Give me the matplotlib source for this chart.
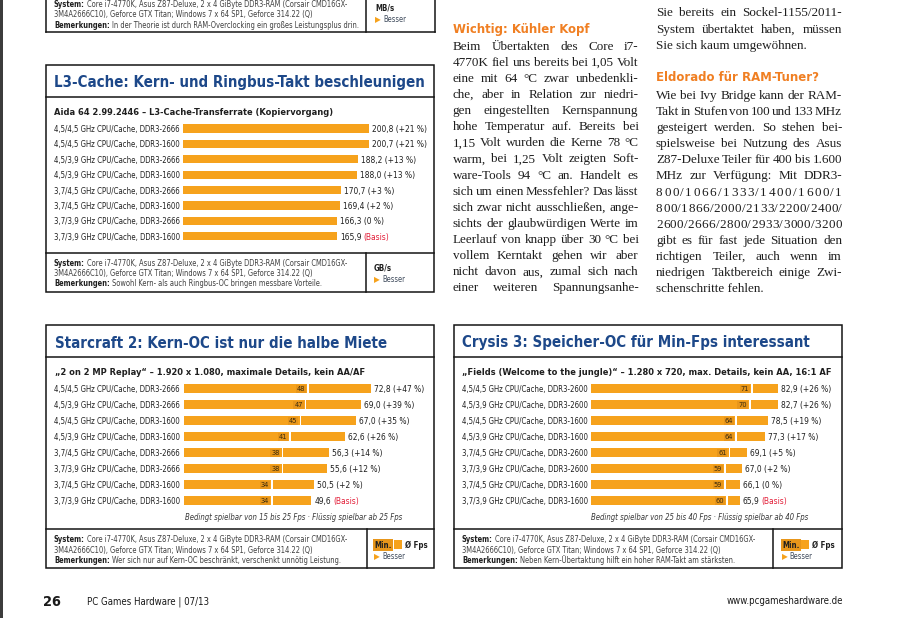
import matplotlib
matplotlib.use("Agg")
import matplotlib.pyplot as plt
import numpy as np
from matplotlib import font_manager
from matplotlib.patches import Rectangle
from matplotlib.transforms import blended_transform_factory, ScaledTranslation

W, H = 907, 618

# ------------------------------------------------------------------
#   DATA
# ------------------------------------------------------------------
l3_labels = ["4,5/4,5 GHz CPU/Cache, DDR3-2666", "4,5/4,5 GHz CPU/Cache, DDR3-1600",
             "4,5/3,9 GHz CPU/Cache, DDR3-2666", "4,5/3,9 GHz CPU/Cache, DDR3-1600",
             "3,7/4,5 GHz CPU/Cache, DDR3-2666", "3,7/4,5 GHz CPU/Cache, DDR3-1600",
             "3,7/3,9 GHz CPU/Cache, DDR3-2666", "3,7/3,9 GHz CPU/Cache, DDR3-1600"]
l3_values = [200.8, 200.7, 188.2, 188.0, 170.7, 169.4, 166.3, 165.9]
l3_gain = ["+21 %", "+21 %", "+13 %", "+13 %", "+3 %", "+2 %", "0 %", "Basis"]

sc_labels = ["4,5/4,5 GHz CPU/Cache, DDR3-2666", "4,5/3,9 GHz CPU/Cache, DDR3-2666",
             "4,5/4,5 GHz CPU/Cache, DDR3-1600", "4,5/3,9 GHz CPU/Cache, DDR3-1600",
             "3,7/4,5 GHz CPU/Cache, DDR3-2666", "3,7/3,9 GHz CPU/Cache, DDR3-2666",
             "3,7/4,5 GHz CPU/Cache, DDR3-1600", "3,7/3,9 GHz CPU/Cache, DDR3-1600"]
sc_min = [48, 47, 45, 41, 38, 38, 34, 34]
sc_avg = [72.8, 69.0, 67.0, 62.6, 56.3, 55.6, 50.5, 49.6]
sc_gain = ["+47 %", "+39 %", "+35 %", "+26 %", "+14 %", "+12 %", "+2 %", "Basis"]

cr_labels = ["4,5/4,5 GHz CPU/Cache, DDR3-2600", "4,5/3,9 GHz CPU/Cache, DDR3-2600",
             "4,5/4,5 GHz CPU/Cache, DDR3-1600", "4,5/3,9 GHz CPU/Cache, DDR3-1600",
             "3,7/4,5 GHz CPU/Cache, DDR3-2600", "3,7/3,9 GHz CPU/Cache, DDR3-2600",
             "3,7/4,5 GHz CPU/Cache, DDR3-1600", "3,7/3,9 GHz CPU/Cache, DDR3-1600"]
cr_min = [71, 70, 64, 64, 61, 59, 59, 60]
cr_avg = [82.9, 82.7, 78.5, 77.3, 69.1, 67.0, 66.1, 65.9]
cr_gain = ["+26 %", "+26 %", "+19 %", "+17 %", "+5 %", "+2 %", "0 %", "Basis"]

system_1 = "Core i7-4770K, Asus Z87-Deluxe, 2 x 4 GiByte DDR3-RAM (Corsair CMD16GX-"
system_2 = "3M4A2666C10), Geforce GTX Titan; Windows 7 x 64 SP1, Geforce 314.22 (Q)"

col_left = ["Beim Übertakten des Core i7-",
            "4770K fiel uns bereits bei 1,05 Volt",
            "eine mit 64 °C zwar unbedenkli-",
            "che, aber in Relation zur niedri-",
            "gen eingestellten Kernspannung",
            "hohe Temperatur auf. Bereits bei",
            "1,15 Volt wurden die Kerne 78 °C",
            "warm, bei 1,25 Volt zeigten Soft-",
            "ware-Tools 94 °C an. Handelt es",
            "sich um einen Messfehler? Das lässt",
            "sich zwar nicht ausschließen, ange-",
            "sichts der glaubwürdigen Werte im",
            "Leerlauf von knapp über 30 °C bei",
            "vollem Kerntakt gehen wir aber",
            "nicht davon aus, zumal sich nach",
            "einer weiteren Spannungsanhe-"]
col_right_top = ["Sie bereits ein Sockel-1155/2011-",
                 "System übertaktet haben, müssen",
                 "Sie sich kaum umgewöhnen."]
col_right = ["Wie bei Ivy Bridge kann der RAM-",
             "Takt in Stufen von 100 und 133 MHz",
             "gesteigert werden. So stehen bei-",
             "spielsweise bei Nutzung des Asus",
             "Z87-Deluxe Teiler für 400 bis 1.600",
             "MHz zur Verfügung: Mit DDR3-",
             "800/1066/1333/1400/1600/1",
             "800/1866/2000/2133/2200/2400/",
             "2600/2666/2800/2933/3000/3200",
             "gibt es für fast jede Situation den",
             "richtigen Teiler, auch wenn im",
             "niedrigen Taktbereich einige Zwi-",
             "schenschritte fehlen."]

# colours
ORANGE = "#f6a21c"
ORANGE_DK = "#e8961a"
HEAD_ORANGE = "#f07f22"
BLUE = "#1d4889"
RED = "#e3203a"
INK = "#1f1f1f"
GREY = "#404040"
LINE = "#151515"

installed = {f.name for f in font_manager.fontManager.ttflist}
if "Liberation Sans Narrow" in installed:
    SANS = dict(family=["Liberation Sans Narrow", "DejaVu Sans"])
else:
    SANS = dict(family=["DejaVu Sans"], fontstretch="condensed")
SERIF = dict(family=["Liberation Serif" if "Liberation Serif" in installed else "DejaVu Serif"])
SYM = dict(family=["DejaVu Sans"])

fig = plt.figure(figsize=(W / 100, H / 100), dpi=100)
page = fig.add_axes([0, 0, 1, 1])
page.set_xlim(0, W)
page.set_ylim(H, 0)
page.axis("off")
renderer = fig.canvas.get_renderer()


def width(t):
    return t.get_window_extent(renderer).width


def txt(x, y, s, **kw):
    kw.setdefault("va", "center_baseline")
    kw.setdefault("ha", "left")
    return page.text(x, y, s, **kw)


def fit(sample, target, **kw):
    t = page.text(0, 0, sample, fontsize=10, **kw)
    w = width(t)
    t.remove()
    return 10 * target / w


def space_px(size, **kw):
    a = page.text(0, 0, "x x", fontsize=size, **kw)
    b = page.text(0, 0, "xx", fontsize=size, **kw)
    s = width(a) - width(b)
    a.remove()
    b.remove()
    return s


def rich(x, y, parts, size):
    # parts: list of (text, props); a space is put between parts
    for k, (s, kw) in enumerate(parts):
        t = txt(x, y, s, fontsize=size, **kw)
        x += width(t)
        if k < len(parts) - 1:
            x += space_px(size, **kw)
    return x


def justify(x0, x1, y, line, size, last=False, **kw):
    if last:
        txt(x0, y, line, fontsize=size, **kw)
        return
    tokens = line.split(" ") if " " in line else list(line)
    arts = [txt(0, y, tok, fontsize=size, **kw) for tok in tokens]
    ws = [width(a) for a in arts]
    gap = (x1 - x0 - sum(ws)) / (len(tokens) - 1)
    x = x0
    for a, w in zip(arts, ws):
        a.set_x(x)
        x += w + gap


def hline(x0, x1, y):
    page.plot([x0, x1], [y, y], color=LINE, lw=1.1, solid_capstyle="projecting")


def vline(x, y0, y1):
    page.plot([x, x], [y0, y1], color=LINE, lw=1.1, solid_capstyle="projecting")


# ------------------------------------------------------------------
#   font sizes, fitted to widths measured on the scan
# ------------------------------------------------------------------
fs_label = fit("4,5/4,5 GHz CPU/Cache, DDR3-2666", 126, **SANS)
fs_value = fit("200,8 (+21 %)", 55, **SANS)
fs_title = fit("L3-Cache: Kern- und Ringbus-Takt beschleunigen", 371, fontweight="bold", **SANS)
fs_sub = fit("Aida 64 2.99.2446 – L3-Cache-Transferrate (Kopiervorgang)", 279, fontweight="bold", **SANS)
fs_foot = fit(system_2, 260, **SANS)
fs_note = fit("Bedingt spielbar von 15 bis 25 Fps · Flüssig spielbar ab 25 Fps", 219, style="italic", **SANS)
fs_body = fit("Sie sich kaum umgewöhnen.", 151, **SERIF)
fs_head = fit("Wichtig: Kühler Kopf", 136, fontweight="bold", **SANS)
fs_page = fit("PC Games Hardware | 07/13", 122, **SANS)
fs_min = fs_label * 0.95

B = dict(fontweight="bold", color=INK, **SANS)
R = dict(color=GREY, **SANS)


def chart(x_label, x_bar, y_first, y_last, scale, labels, avg, gain, mins=None, bar_px=8.5):
    n = len(labels)
    step = (y_last - y_first) / (n - 1)
    top = y_first - step / 2
    wpx = 260
    ax = fig.add_axes([x_bar / W, 1 - (top + step * n) / H, wpx / W, step * n / H])
    ax.set_xlim(0, wpx / scale)
    ax.set_ylim(n - 0.5, -0.5)
    ax.axis("off")
    rows = np.arange(n)
    hb = bar_px / step
    if mins is None:
        ax.barh(rows, avg, height=hb, color=ORANGE, lw=0)
    else:
        gap = 1.6 / scale
        mins = np.array(mins)
        ax.barh(rows, mins, height=hb, color=ORANGE, lw=0)
        ax.barh(rows, np.array(avg) - mins - gap, left=mins + gap, height=hb, color=ORANGE, lw=0)
        shift = ax.transData + ScaledTranslation(-0.02, 0, fig.dpi_scale_trans)
        for i, m in enumerate(mins):
            ax.text(m, i, str(m), transform=shift, ha="right", va="center_baseline",
                    fontsize=fs_min, color="#3a2a0c", clip_on=False,
                    bbox=dict(boxstyle="square,pad=0.12", fc=ORANGE_DK, ec="none"), **SANS)
    blend = blended_transform_factory(page.transData, ax.transData)
    for i, lab in enumerate(labels):
        ax.text(x_label, i, lab, transform=blend, ha="left", va="center_baseline",
                fontsize=fs_label, color=INK, clip_on=False, **SANS)
    shift = ax.transData + ScaledTranslation(0.03, 0, fig.dpi_scale_trans)
    sp = space_px(fs_value, **SANS)
    for i, (v, g) in enumerate(zip(avg, gain)):
        num = f"{v:.1f}".replace(".", ",")
        if g == "Basis":
            t = ax.text(v, i, num, transform=shift, ha="left", va="center_baseline",
                        fontsize=fs_value, color=INK, clip_on=False, **SANS)
            x_end = t.get_window_extent(renderer).x1
            ax.text(x_end + sp, i, "(Basis)", transform=blend, ha="left", va="center_baseline",
                    fontsize=fs_value, color=RED, clip_on=False, **SANS)
        else:
            ax.text(v, i, f"{num} ({g})", transform=shift, ha="left", va="center_baseline",
                    fontsize=fs_value, color=INK, clip_on=False, **SANS)
    return ax


def footer(x, ys, remark):
    rich(x, ys[0], [("System:", B), (system_1, R)], fs_foot)
    txt(x, ys[1], system_2, fontsize=fs_foot, **R)
    rich(x, ys[2], [("Bemerkungen:", B), (remark, R)], fs_foot)


def besser(x, y):
    rich(x, y, [("\u25B6", dict(color=ORANGE, **SYM)),
                ("Besser", dict(color="#3f4b5c", **SANS))], fs_foot)


def min_legend(x, y):
    t = txt(x, y, "Min.", fontsize=fs_foot * 1.05, fontweight="bold", color=INK,
            bbox=dict(boxstyle="square,pad=0.15", fc=ORANGE_DK, ec="none"), **SANS)
    x1 = x + width(t) + 2
    page.add_patch(Rectangle((x1, y - 4.5), 8, 9, color=ORANGE, lw=0))
    txt(x1 + 11, y, "Ø Fps", fontsize=fs_foot * 1.05, fontweight="bold", color=INK, **SANS)


# left dark edge of the scan
page.add_patch(Rectangle((0, 0), 3, H, color="#3c3c3c", lw=0))

# ------------------------------------------------------------------
#   partial box at the top
# ------------------------------------------------------------------
vline(45.7, -2, 32)
vline(435, -2, 32)
vline(366, -2, 32)
hline(45.7, 435, 32)
rich(54, 3.6, [("System:", B), (system_1, R)], fs_foot)
txt(54, 13.8, system_2, fontsize=fs_foot, **R)
rich(54, 24.3, [("Bemerkungen:", B), ("In der Theorie ist durch RAM-Overclocking ein großes Leistungsplus drin.", R)], fs_foot)
txt(375, 7, "MB/s", fontsize=fs_foot * 1.05, **B)
besser(375, 18.3)

# ------------------------------------------------------------------
#   L3 cache chart
# ------------------------------------------------------------------
page.add_patch(Rectangle((45.7, 65), 434 - 45.7, 292 - 65, fill=False, ec=LINE, lw=1.1))
hline(45.7, 434, 97)
hline(45.7, 434, 253)
vline(366, 253, 292)
txt(54, 81.5, "L3-Cache: Kern- und Ringbus-Takt beschleunigen", fontsize=fs_title,
    fontweight="bold", color=BLUE, **SANS)
txt(54, 111.5, "Aida 64 2.99.2446 – L3-Cache-Transferrate (Kopiervorgang)", fontsize=fs_sub, **B)
chart(54, 183.3, 128.5, 236.2, 186 / 200.8, l3_labels, l3_values, l3_gain, bar_px=8.3)
footer(54, [262, 272.3, 283], "Sowohl Kern- als auch Ringbus-OC bringen messbare Vorteile.")
txt(374, 267, "GB/s", fontsize=fs_foot * 1.05, **B)
besser(374, 278.7)

# ------------------------------------------------------------------
#   Starcraft 2 chart
# ------------------------------------------------------------------
page.add_patch(Rectangle((45.7, 325), 433.5 - 45.7, 568 - 325, fill=False, ec=LINE, lw=1.1))
hline(45.7, 433.5, 357)
hline(45.7, 433.5, 529)
vline(367, 529, 568)
txt(55, 341.5, "Starcraft 2: Kern-OC ist nur die halbe Miete", fontsize=fs_title,
    fontweight="bold", color=BLUE, **SANS)
txt(55, 371.5, "„2 on 2 MP Replay“ – 1.920 x 1.080, maximale Details, kein AA/AF", fontsize=fs_sub, **B)
chart(54, 184, 388.3, 500.3, 187 / 72.8, sc_labels, sc_avg, sc_gain, mins=sc_min, bar_px=8.7)
txt(402, 517, "Bedingt spielbar von 15 bis 25 Fps · Flüssig spielbar ab 25 Fps", ha="right",
    fontsize=fs_note, style="italic", color="#3a3a3a", **SANS)
footer(54, [538.3, 549.3, 559.3], "Wer sich nur auf Kern-OC beschränkt, verschenkt unnötig Leistung.")
min_legend(374.5, 544)
besser(374, 555.7)

# ------------------------------------------------------------------
#   Crysis 3 chart
# ------------------------------------------------------------------
page.add_patch(Rectangle((454, 325), 842 - 454, 568 - 325, fill=False, ec=LINE, lw=1.1))
hline(454, 842, 357)
hline(454, 842, 529)
vline(773, 529, 568)
txt(462, 341.5, "Crysis 3: Speicher-OC für Min-Fps interessant", fontsize=fs_title,
    fontweight="bold", color=BLUE, **SANS)
txt(462, 371.5, "„Fields (Welcome to the jungle)“ – 1.280 x 720, max. Details, kein AA, 16:1 AF",
    fontsize=fs_sub, **B)
chart(462, 591, 388.3, 500.3, 187 / 82.9, cr_labels, cr_avg, cr_gain, mins=cr_min, bar_px=8.7)
txt(808, 517, "Bedingt spielbar von 25 bis 40 Fps · Flüssig spielbar ab 40 Fps", ha="right",
    fontsize=fs_note, style="italic", color="#3a3a3a", **SANS)
footer(462, [538.3, 549.3, 559.3], "Neben Kern-Übertaktung hilft ein hoher RAM-Takt am stärksten.")
min_legend(782, 544)
besser(781.5, 555.7)

# ------------------------------------------------------------------
#   article text columns
# ------------------------------------------------------------------
BODY = dict(color="#1e1e1e", **SERIF)
txt(452.7, 27.7, "Wichtig: Kühler Kopf", fontsize=fs_head, fontweight="bold", color=HEAD_ORANGE, **SANS)
for k, line in enumerate(col_left):
    justify(452.7, 638.5, 45 + k * 16.13, line, fs_body, **BODY)

for k, line in enumerate(col_right_top):
    justify(656, 842, 12 + k * 16.5, line, fs_body, last=(k == len(col_right_top) - 1), **BODY)
txt(656, 76, "Eldorado für RAM-Tuner?", fontsize=fs_head, fontweight="bold", color=HEAD_ORANGE, **SANS)
for k, line in enumerate(col_right):
    justify(656, 842, 94.3 + k * 16.13, line, fs_body, last=(k == len(col_right) - 1), **BODY)

# ------------------------------------------------------------------
#   page footer
# ------------------------------------------------------------------
txt(43.5, 600.5, "26", fontsize=fs_page * 1.5, fontweight="bold", color="#1a1a1a", **SANS)
txt(87, 600.5, "PC Games Hardware | 07/13", fontsize=fs_page, color="#1a1a1a", **SANS)
txt(843, 600.5, "www.pcgameshardware.de", ha="right", fontsize=fs_page, color="#1a1a1a", **SANS)

fig.savefig("out.png", dpi=100)
